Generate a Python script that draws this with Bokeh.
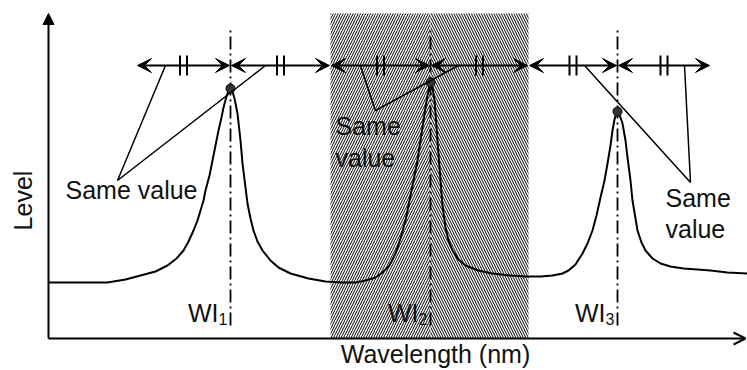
import math
from bokeh.plotting import figure
from bokeh.models import Range1d, Arrow, VeeHead, NormalHead, OpenHead, ColumnDataSource
from bokeh.core.properties import value
from bokeh.embed import file_html
from bokeh.resources import INLINE

# ---------------- data (arbitrary units) ----------------
wavelength = [0, 32, 59, 77, 92, 107, 119, 128, 135, 140, 145, 149, 152, 155, 157, 161, 164, 167,
              170, 173, 175, 178, 180, 182, 184, 186, 189, 192, 194, 197, 199, 202, 205, 209, 214,
              222, 230, 242, 260, 277, 294, 307, 317, 327, 334, 341, 347, 352, 357, 361, 365, 369,
              372, 375, 377, 379, 381, 382, 384, 386, 387, 389, 392, 394, 397, 400, 404, 410, 417,
              430, 444, 462, 477, 492, 504, 514, 520, 527, 534, 539, 544, 548, 552, 556, 559, 562,
              564, 566, 568, 570, 572, 574, 577, 579, 582, 584, 587, 589, 593, 597, 604, 612, 622,
              635, 649, 662, 679, 699]
level = [56, 56, 56, 59, 63, 67, 73, 80, 88, 97, 108, 118, 128, 138, 148, 163, 178, 193,
         208, 221, 231, 242, 248, 250, 247, 240, 225, 198, 175, 151, 135, 120, 108, 97, 88,
         78, 71, 65, 60, 57, 56, 56, 58, 61, 66, 73, 85, 100, 118, 138, 158, 178,
         198, 218, 231, 243, 252, 255, 251, 238, 225, 198, 158, 133, 111, 98, 88, 79, 73,
         68, 65, 63, 62, 62, 63, 65, 68, 74, 85, 95, 108, 123, 141, 158, 175, 193,
         208, 219, 226, 225, 221, 215, 198, 181, 158, 138, 120, 108, 96, 88, 80, 75, 72,
         70, 69, 68, 66, 65]

peak_wl = [182, 382, 569]
peak_level = [250, 256, 227]
peak_sub = ["1", "2", "3"]

bounds = [88, 182, 282, 382, 480, 569, 662]   # equal-distance markers
arrow_level = 273

band = [282, 382, 480]      # shaded wavelength band (left, centre, right)
band_top = 325

leader_xs = [[117, 69, 217], [312, 327, 410], [536, 642, 636]]
leader_ys = [[273, 158, 273], [273, 228, 273], [273, 156, 273]]

note_x = [17, 287, 287, 617, 617]
note_y = [149, 213, 181, 141, 110]
note_text = ["Same value", "Same", "value", "Same", "value"]

axis_x_end = 697
axis_y_end = 325

FONT = value("Liberation Sans")

p = figure(width=747, height=370, x_range=Range1d(-48, 699), y_range=Range1d(-32, 338),
           output_backend="svg", toolbar_location=None, x_axis_type=None, y_axis_type=None,
           min_border=0, outline_line_color=None, title=None)
p.background_fill_color = "white"
p.border_fill_color = "white"

# hatched band
p.quad(left=[band[0]], right=[band[1]], bottom=[0], top=[band_top], fill_color="white",
       line_color=None, hatch_pattern="/", hatch_scale=5, hatch_weight=1, hatch_color="black")
p.quad(left=[band[1]], right=[band[2]], bottom=[0], top=[band_top], fill_color="white",
       line_color=None, hatch_pattern="\\", hatch_scale=5, hatch_weight=1, hatch_color="black")

# peak centre lines
p.segment(x0=peak_wl, x1=peak_wl, y0=13, y1=308, line_color="black", line_width=1.8,
          line_dash="13 4 2 4")

# spectrum
p.line(wavelength, level, line_color="black", line_width=2)
p.scatter(peak_wl, peak_level, size=9, fill_color="#333333", line_color="black")

# measurement arrows
src = ColumnDataSource(dict(x0=[b + 1 for b in bounds[:-1]], x1=[b - 1 for b in bounds[1:]],
                            y=[arrow_level] * (len(bounds) - 1)))
p.add_layout(Arrow(start=VeeHead(size=14, fill_color="black", line_color="black"),
                   end=VeeHead(size=14, fill_color="black", line_color="black"),
                   source=src, x_start="x0", y_start="y", x_end="x1", y_end="y",
                   line_width=2, line_color="black"))
mids = [(a + b) / 2 for a, b in zip(bounds[:-1], bounds[1:])]
tx = [m - 3.5 for m in mids] + [m + 3.5 for m in mids]
p.segment(x0=tx, x1=tx, y0=arrow_level - 10, y1=arrow_level + 10, line_color="black", line_width=2)

# leader lines
p.multi_line(leader_xs, leader_ys, line_color="black", line_width=1.5)

# annotations
p.text(x=note_x, y=note_y, text=note_text, text_font=FONT, text_font_size="25px",
       text_align="left", text_baseline="alphabetic", text_color="#111111")
p.text(x=[w - 12 for w in peak_wl], y=[26] * 3, text=["WI"] * 3, text_font=FONT,
       text_font_size="25px", text_align="right", text_baseline="alphabetic", text_color="#111111")
p.text(x=[w - 12 for w in peak_wl], y=[20] * 3, text=peak_sub, text_font=FONT,
       text_font_size="16px", text_align="left", text_baseline="alphabetic", text_color="#111111")

# axes
p.add_layout(Arrow(end=NormalHead(size=11, fill_color="black", line_color="black"),
                   x_start=0, y_start=0, x_end=0, y_end=axis_y_end, line_width=2, line_color="black"))
p.add_layout(Arrow(end=OpenHead(size=12, line_width=2, line_color="black"),
                   x_start=0, y_start=0, x_end=axis_x_end, y_end=0, line_width=2, line_color="black"))
p.text(x=[-26], y=[138], text=["Level"], angle=math.pi / 2, text_font=FONT, text_font_size="25px",
       text_align="center", text_baseline="alphabetic", text_color="#111111")
p.text(x=[387], y=[-15], text=["Wavelength (nm)"], text_font=FONT, text_font_size="25px",
       text_align="center", text_baseline="alphabetic", text_color="#111111")

open("out.html", "w").write(file_html(p, INLINE))
